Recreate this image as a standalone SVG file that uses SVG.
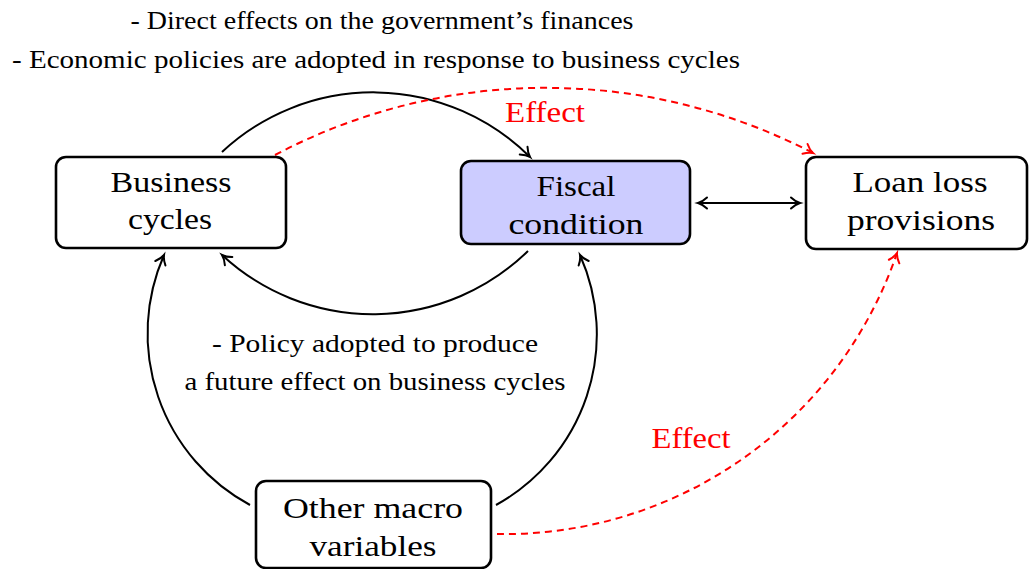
<svg xmlns="http://www.w3.org/2000/svg" width="1029" height="569" viewBox="0 0 1029 569">
  <style>
    .box { fill: #ffffff; stroke: #000000; stroke-width: 2.6; }
    .fiscal { fill: #ccccff; }
    .lbl { font-family: "Liberation Serif", "Times New Roman", serif; fill: #000000; text-anchor: middle; }
    .node { font-size: 30px; }
    .note { font-size: 25px; }
    .red { fill: #ff0000; font-size: 29px; }
    .edge { fill: none; stroke: #000000; stroke-width: 2; }
    .dash { fill: none; stroke: #ff0000; stroke-width: 2; stroke-dasharray: 7 5; }
  </style>
  <defs>
    <marker id="tipK" markerUnits="userSpaceOnUse" markerWidth="18" markerHeight="18" viewBox="-11 -9 13 18" refX="0" refY="0" orient="auto-start-reverse" overflow="visible">
      <path d="M-9,-5.5 C-5.5,-2.2 -2.2,-0.6 0,0 C-2.2,0.6 -5.5,2.2 -9,5.5" fill="none" stroke="#000000" stroke-width="2" stroke-linecap="round"/>
    </marker>
    <marker id="tipR" markerUnits="userSpaceOnUse" markerWidth="18" markerHeight="18" viewBox="-11 -9 13 18" refX="0" refY="0" orient="auto" overflow="visible">
      <path d="M-9,-5.5 C-5.5,-2.2 -2.2,-0.6 0,0 C-2.2,0.6 -5.5,2.2 -9,5.5" fill="none" stroke="#ff0000" stroke-width="2" stroke-dasharray="none" stroke-linecap="round"/>
    </marker>
  </defs>

  <!-- free-standing notes -->
  <g id="notes">
    <text class="lbl note" x="382" y="29" textLength="503" lengthAdjust="spacingAndGlyphs">- Direct effects on the government’s finances</text>
    <text class="lbl note" x="376" y="68" textLength="728" lengthAdjust="spacingAndGlyphs">- Economic policies are adopted in response to business cycles</text>
    <text class="lbl note" x="375" y="352" textLength="326" lengthAdjust="spacingAndGlyphs">- Policy adopted to produce</text>
    <text class="lbl note" x="375" y="390" textLength="381" lengthAdjust="spacingAndGlyphs">a future effect on business cycles</text>
  </g>

  <!-- connectors -->
  <g id="connectors">
    <path class="edge" d="M222,152 A222,222 0 0 1 530,157" marker-end="url(#tipK)"/>
    <path class="edge" d="M528,251 A222,222 0 0 1 222,255" marker-end="url(#tipK)"/>
    <path class="edge" d="M250,505 A195,195 0 0 1 164,255" marker-end="url(#tipK)"/>
    <path class="edge" d="M496,505 A195,195 0 0 0 580,255" marker-end="url(#tipK)"/>
    <path class="edge" d="M698,203 L800,203" marker-start="url(#tipK)" marker-end="url(#tipK)"/>
    <path class="dash" d="M275,155 A580,580 0 0 1 813,153" marker-end="url(#tipR)"/>
    <path class="dash" d="M497,534 A415,415 0 0 0 897,253" marker-end="url(#tipR)"/>
    <text class="lbl red" x="545" y="122" textLength="80" lengthAdjust="spacingAndGlyphs">Effect</text>
    <text class="lbl red" x="691" y="448" textLength="79" lengthAdjust="spacingAndGlyphs">Effect</text>
  </g>

  <g id="business-cycles">
    <rect class="box" x="56" y="157" width="230" height="91" rx="10"/>
    <text class="lbl node" x="171" y="192" textLength="121" lengthAdjust="spacingAndGlyphs">Business</text>
    <text class="lbl node" x="170" y="229" textLength="84" lengthAdjust="spacingAndGlyphs">cycles</text>
  </g>

  <g id="fiscal-condition">
    <rect class="box fiscal" x="461" y="161" width="229" height="83" rx="10"/>
    <text class="lbl node" x="576" y="196" textLength="79" lengthAdjust="spacingAndGlyphs">Fiscal</text>
    <text class="lbl node" x="576" y="234" textLength="135" lengthAdjust="spacingAndGlyphs">condition</text>
  </g>

  <g id="loan-loss-provisions">
    <rect class="box" x="806" y="157" width="221" height="92" rx="10"/>
    <text class="lbl node" x="920" y="192" textLength="135" lengthAdjust="spacingAndGlyphs">Loan loss</text>
    <text class="lbl node" x="921" y="230" textLength="148" lengthAdjust="spacingAndGlyphs">provisions</text>
  </g>

  <g id="other-macro-variables">
    <rect class="box" x="256" y="481" width="235" height="87" rx="10"/>
    <text class="lbl node" x="373" y="518" textLength="180" lengthAdjust="spacingAndGlyphs">Other macro</text>
    <text class="lbl node" x="373" y="556" textLength="127" lengthAdjust="spacingAndGlyphs">variables</text>
  </g>
</svg>
